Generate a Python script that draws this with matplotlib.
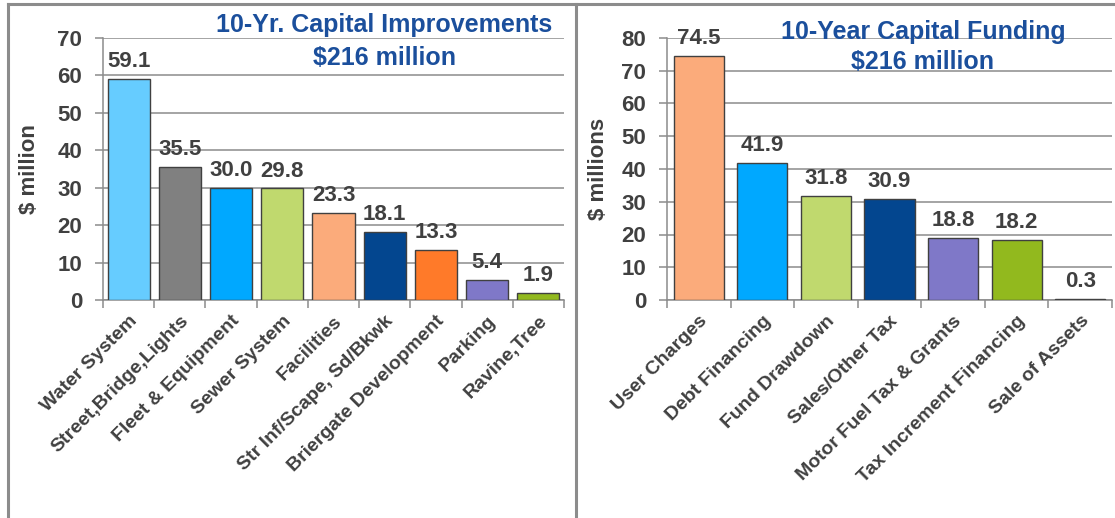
import matplotlib.pyplot as plt
from matplotlib.lines import Line2D
import numpy as np

plt.rcParams['font.family'] = ['Liberation Sans', 'DejaVu Sans']

# left chart: capital improvements
imp_labels = ["Water System", "Street,Bridge,Lights", "Fleet & Equipment", "Sewer System",
              "Facilities", "Str Inf/Scape, Sd/Bkwk", "Briergate Development", "Parking",
              "Ravine,Tree"]
imp_values = [59.1, 35.5, 30.0, 29.8, 23.3, 18.1, 13.3, 5.4, 1.9]
imp_colors = ["#66CCFF", "#808080", "#00A8FF", "#C0D96E", "#FBAB7B",
              "#03468F", "#FF7A29", "#7F78C8", "#92B91E"]

# right chart: capital funding
fund_labels = ["User Charges", "Debt Financing", "Fund Drawdown", "Sales/Other Tax",
               "Motor Fuel Tax & Grants", "Tax Increment Financing", "Sale of Assets"]
fund_values = [74.5, 41.9, 31.8, 30.9, 18.8, 18.2, 0.3]
fund_colors = ["#FBAB7B", "#00A8FF", "#C0D96E", "#03468F", "#7F78C8", "#92B91E", "#404040"]

txt = "#404040"
grid = "#8C8C8C"
blue = "#1B4F9C"

fig = plt.figure(figsize=(11.15, 5.18), dpi=100)

# panel frames
fig.add_artist(Line2D([8/1115, 8/1115], [0, 1 - 4/518], color="#8C8C8C", lw=2.2))
fig.add_artist(Line2D([8/1115, 1], [1 - 4/518, 1 - 4/518], color="#8C8C8C", lw=2.2))
fig.add_artist(Line2D([576/1115, 576/1115], [0, 1 - 4/518], color="#8C8C8C", lw=2.2))


def draw(ax, labels, values, colors, ymax, width, ylabel, ylab_x, fs_cat):
    x = np.arange(len(values))
    bars = ax.bar(x, values, width=width, color=colors, edgecolor="#404040", linewidth=1, zorder=3)
    for b, v in zip(bars, values):
        ax.annotate(f"{v:.1f}", (b.get_x() + b.get_width() / 2, v), xytext=(0, 5),
                    textcoords="offset points", ha="center", va="bottom",
                    fontsize=16, fontweight="bold", color=txt, zorder=4)
    ax.set_xlim(-0.5, len(values) - 0.5)
    ax.set_ylim(0, ymax)
    ax.set_yticks(np.arange(0, ymax + 1, 10))
    ax.yaxis.grid(True, color=grid, lw=1.1, zorder=0)
    ax.set_axisbelow(True)
    for s in ["top", "right"]:
        ax.spines[s].set_visible(False)
    ax.spines["left"].set_color(grid)
    ax.spines["bottom"].set_color(grid)
    ax.spines["left"].set_linewidth(1.1)
    ax.spines["bottom"].set_linewidth(1.1)
    ax.tick_params(axis="y", length=6, color=grid, width=1.1, labelsize=16,
                   labelcolor=txt, pad=9)
    ax.set_xticks(x)
    ax.set_xticklabels(labels, rotation=45, ha="right", rotation_mode="anchor",
                       fontsize=fs_cat, color=txt)
    ax.tick_params(axis="x", which="major", length=0, pad=9)
    ax.set_xticks(np.arange(len(values) + 1) - 0.5, minor=True)
    ax.set_xticklabels([""] * (len(values) + 1), minor=True)
    ax.tick_params(axis="x", which="minor", length=6, color=grid, width=1.1)
    for t in ax.get_yticklabels() + ax.get_xticklabels():
        t.set_fontweight("bold")
    ax.set_ylabel(ylabel, fontsize=16, color=txt, fontweight="bold")
    ax.yaxis.set_label_coords(ylab_x, 0.5)


ax1 = fig.add_axes([103/1115, 1 - 300/518, 461/1115, 262/518])
draw(ax1, imp_labels, imp_values, imp_colors, 70, 0.82, "$ million", -0.136, 14)
ax1.text(0.61, 1.05, "10-Yr. Capital Improvements", transform=ax1.transAxes,
         ha="center", va="center", fontsize=18, fontweight="bold", color=blue)
ax1.text(0.61, 0.924, "$216 million", transform=ax1.transAxes,
         ha="center", va="center", fontsize=18, fontweight="bold", color=blue)

ax2 = fig.add_axes([667/1115, 1 - 300/518, 445/1115, 262/518])
draw(ax2, fund_labels, fund_values, fund_colors, 80, 0.79, "$ millions", -0.13, 14)
ax2.text(0.575, 1.023, "10-Year Capital Funding", transform=ax2.transAxes,
         ha="center", va="center", fontsize=18, fontweight="bold", color=blue)
ax2.text(0.575, 0.908, "$216 million", transform=ax2.transAxes,
         ha="center", va="center", fontsize=18, fontweight="bold", color=blue)

fig.savefig("out.png", dpi=100)
